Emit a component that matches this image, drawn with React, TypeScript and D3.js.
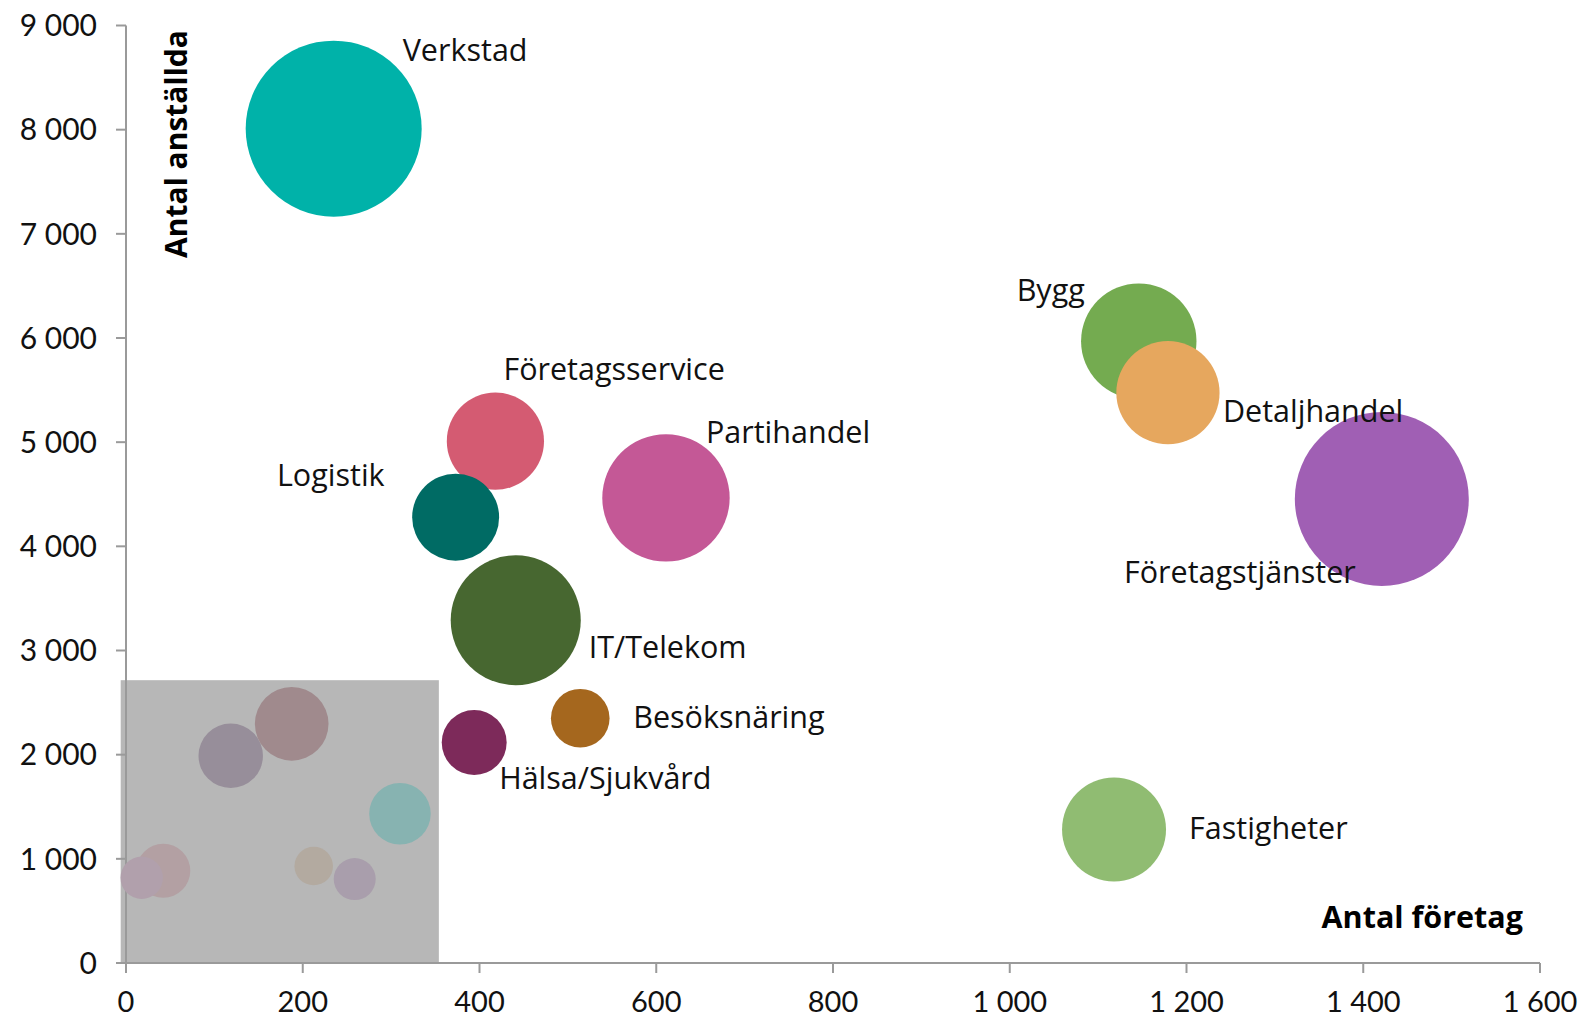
import React from "react";
import * as d3 from "d3";

// Data
const sectors = [
  "Verkstad", "Bygg", "Detaljhandel", "Företagstjänster", "Partihandel",
  "Företagsservice", "Logistik", "IT/Telekom", "Besöksnäring", "Hälsa/Sjukvård", "Fastigheter",
];
const companies = [235, 1146, 1179, 1421, 611, 418, 373, 441, 514, 394, 1118];
const employees = [8010, 5970, 5475, 4455, 4465, 5010, 4280, 3290, 2350, 2117, 1282];
const sizes = [100, 43, 34.4, 97.7, 52.4, 30.5, 24.4, 54.6, 11.1, 13.6, 34.9];
const colors = [
  "#00B2A9", "#74AB50", "#E6A75E", "#A05FB4", "#C45896",
  "#D45B72", "#006B64", "#476730", "#A5671E", "#7D2A5A", "#90BC72",
];

// Faded (unlabelled) bubbles in the grey box
const smallCompanies = [118.5, 187.5, 310, 212.4, 258.8, 42.2, 17.8];
const smallEmployees = [1989, 2296, 1433, 931, 806, 886, 818];
const smallSizes = [13.4, 17.5, 12.2, 4.8, 5.7, 9.4, 5.8];
const smallColors = ["#978E9A", "#A08A8D", "#87B3B1", "#B3AAA0", "#A99EAC", "#B3A0A3", "#B1A0AC"];

const greyBoxX = [-6, 354];
const greyBoxY = [0, 2715];

const xTicks = [0, 200, 400, 600, 800, 1000, 1200, 1400, 1600];
const yTicks = [0, 1000, 2000, 3000, 4000, 5000, 6000, 7000, 8000, 9000];

// Label placement (offset from bubble centre, px) – layout only
const labelLayout: { dx: number; dy: number; anchor: string }[] = [
  { dx: 69, dy: -68, anchor: "start" },
  { dx: -54, dy: -40, anchor: "end" },
  { dx: 55, dy: 29, anchor: "start" },
  { dx: -26, dy: 84, anchor: "end" },
  { dx: 40, dy: -55, anchor: "start" },
  { dx: 8, dy: -61, anchor: "start" },
  { dx: -71, dy: -31, anchor: "end" },
  { dx: 73, dy: 38, anchor: "start" },
  { dx: 53, dy: 10, anchor: "start" },
  { dx: 25, dy: 47, anchor: "start" },
  { dx: 75, dy: 10, anchor: "start" },
];

const W = 1586;
const H = 1019;
const left = 126;
const right = 1540;
const top = 25.5;
const bottom = 963;

export default function App() {
  const x = d3.scaleLinear().domain([0, 1600]).range([left, right]);
  const y = d3.scaleLinear().domain([0, 9000]).range([bottom, top]);
  const r = d3.scaleSqrt().domain([0, 100]).range([0, 88]);
  const axisColor = "#9a9a9a";
  const labelFont = "'Open Sans', Lato, sans-serif";
  const tickFont = "Lato, 'Open Sans', sans-serif";
  const tickFmt = (v: number) =>
    v >= 1000 ? `${Math.floor(v / 1000)} ${String(v % 1000).padStart(3, "0")}` : String(v);

  return (
    <svg width={W} height={H} style={{ position: "absolute", left: 0, top: 0, display: "block", background: "#fff" }}>
      <rect
        x={x(greyBoxX[0])}
        y={y(greyBoxY[1])}
        width={x(greyBoxX[1]) - x(greyBoxX[0])}
        height={y(greyBoxY[0]) - y(greyBoxY[1])}
        fill="#B7B7B7"
      />
      {/* axes */}
      <line x1={left} x2={left} y1={y(9000)} y2={bottom} stroke={axisColor} strokeWidth={2} />
      <line x1={left - 10} x2={right} y1={bottom} y2={bottom} stroke={axisColor} strokeWidth={2} />
      {yTicks.map((t) => (
        <g key={"y" + t}>
          <line x1={left - 10} x2={left} y1={y(t)} y2={y(t)} stroke={axisColor} strokeWidth={2} />
          <text x={97} y={y(t)} dy="0.36em" textAnchor="end" fontFamily={tickFont} fontSize={30} fill="#111">
            {tickFmt(t)}
          </text>
        </g>
      ))}
      {xTicks.map((t) => (
        <g key={"x" + t}>
          <line x1={x(t)} x2={x(t)} y1={bottom} y2={bottom + 10} stroke={axisColor} strokeWidth={2} />
          <text x={x(t)} y={1012} textAnchor="middle" fontFamily={tickFont} fontSize={29} fill="#111">
            {tickFmt(t)}
          </text>
        </g>
      ))}
      {/* faded bubbles */}
      {smallCompanies.map((c, i) => (
        <circle key={"s" + i} cx={x(c)} cy={y(smallEmployees[i])} r={r(smallSizes[i])} fill={smallColors[i]} />
      ))}
      {/* main bubbles */}
      {sectors.map((s, i) => (
        <circle key={s} cx={x(companies[i])} cy={y(employees[i])} r={r(sizes[i])} fill={colors[i]} />
      ))}
      {sectors.map((s, i) => (
        <text
          key={"l" + s}
          x={x(companies[i]) + labelLayout[i].dx}
          y={y(employees[i]) + labelLayout[i].dy}
          textAnchor={labelLayout[i].anchor}
          fontFamily={labelFont}
          fontSize={30.5}
          fill="#111"
        >
          {s}
        </text>
      ))}
      {/* axis titles */}
      <text
        transform={`translate(187,144) rotate(-90)`}
        textAnchor="middle"
        fontFamily={labelFont}
        fontWeight="bold"
        fontSize={30}
        fill="#000"
      >
        Antal anställda
      </text>
      <text x={1523} y={928} textAnchor="end" fontFamily={labelFont} fontWeight="bold" fontSize={30.5} fill="#000">
        Antal företag
      </text>
    </svg>
  );
}
